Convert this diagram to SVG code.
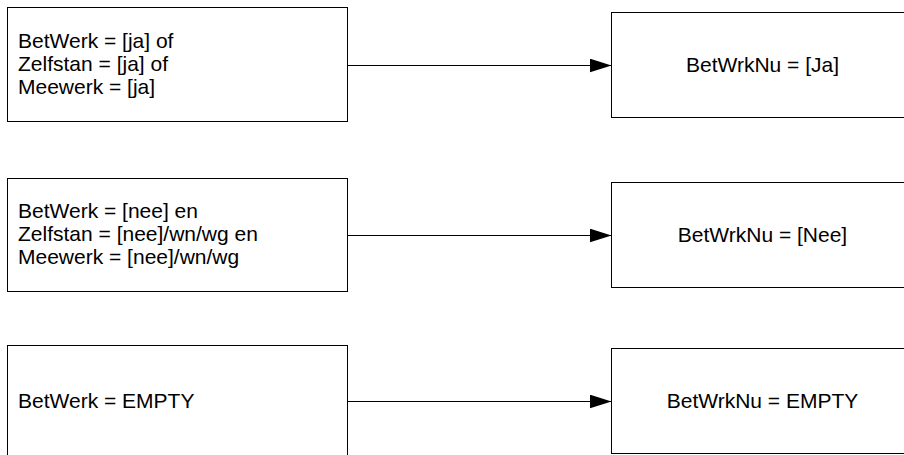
<svg xmlns="http://www.w3.org/2000/svg" width="904" height="455" viewBox="0 0 904 455">
<defs>
<marker id="arr" markerWidth="22" markerHeight="14" refX="22" refY="7" orient="auto" markerUnits="userSpaceOnUse">
<path d="M0,0 L22,7 L0,14 Z" fill="#000"/>
</marker>
<style>
.box{fill:#fff;stroke:#000;stroke-width:1}
.t{font-family:"Liberation Sans",Arial,sans-serif;font-size:21px;fill:#000}
.c{text-anchor:middle}
.ln{stroke:#000;stroke-width:1;fill:none}
</style>
</defs>
<rect width="904" height="455" fill="#fff"/>
<g id="connectors">
<line class="ln" x1="347.5" y1="65.5" x2="611.5" y2="65.5" marker-end="url(#arr)"/>
<line class="ln" x1="347.5" y1="235.5" x2="611.5" y2="235.5" marker-end="url(#arr)"/>
<line class="ln" x1="347.5" y1="401.5" x2="611.5" y2="401.5" marker-end="url(#arr)"/>
</g>
<g id="cond1">
<rect class="box" x="7.5" y="7.5" width="340" height="114"/>
<text class="t" x="18" y="48">BetWerk = [ja] of</text>
<text class="t" x="18" y="71">Zelfstan = [ja] of</text>
<text class="t" x="18" y="94">Meewerk = [ja]</text>
</g>
<g id="res1">
<rect class="box" x="611.5" y="12.5" width="302" height="105"/>
<text class="t c" x="762.5" y="72">BetWrkNu = [Ja]</text>
</g>
<g id="cond2">
<rect class="box" x="7.5" y="178.5" width="340" height="113"/>
<text class="t" x="18" y="218">BetWerk = [nee] en</text>
<text class="t" x="18" y="241">Zelfstan = [nee]/wn/wg en</text>
<text class="t" x="18" y="264">Meewerk = [nee]/wn/wg</text>
</g>
<g id="res2">
<rect class="box" x="611.5" y="182.5" width="302" height="105"/>
<text class="t c" x="762.5" y="242">BetWrkNu = [Nee]</text>
</g>
<g id="cond3">
<rect class="box" x="7.5" y="345.5" width="340" height="114"/>
<text class="t" x="18" y="408">BetWerk = EMPTY</text>
</g>
<g id="res3">
<rect class="box" x="611.5" y="348.5" width="302" height="105"/>
<text class="t c" x="762.5" y="408">BetWrkNu = EMPTY</text>
</g>
</svg>
